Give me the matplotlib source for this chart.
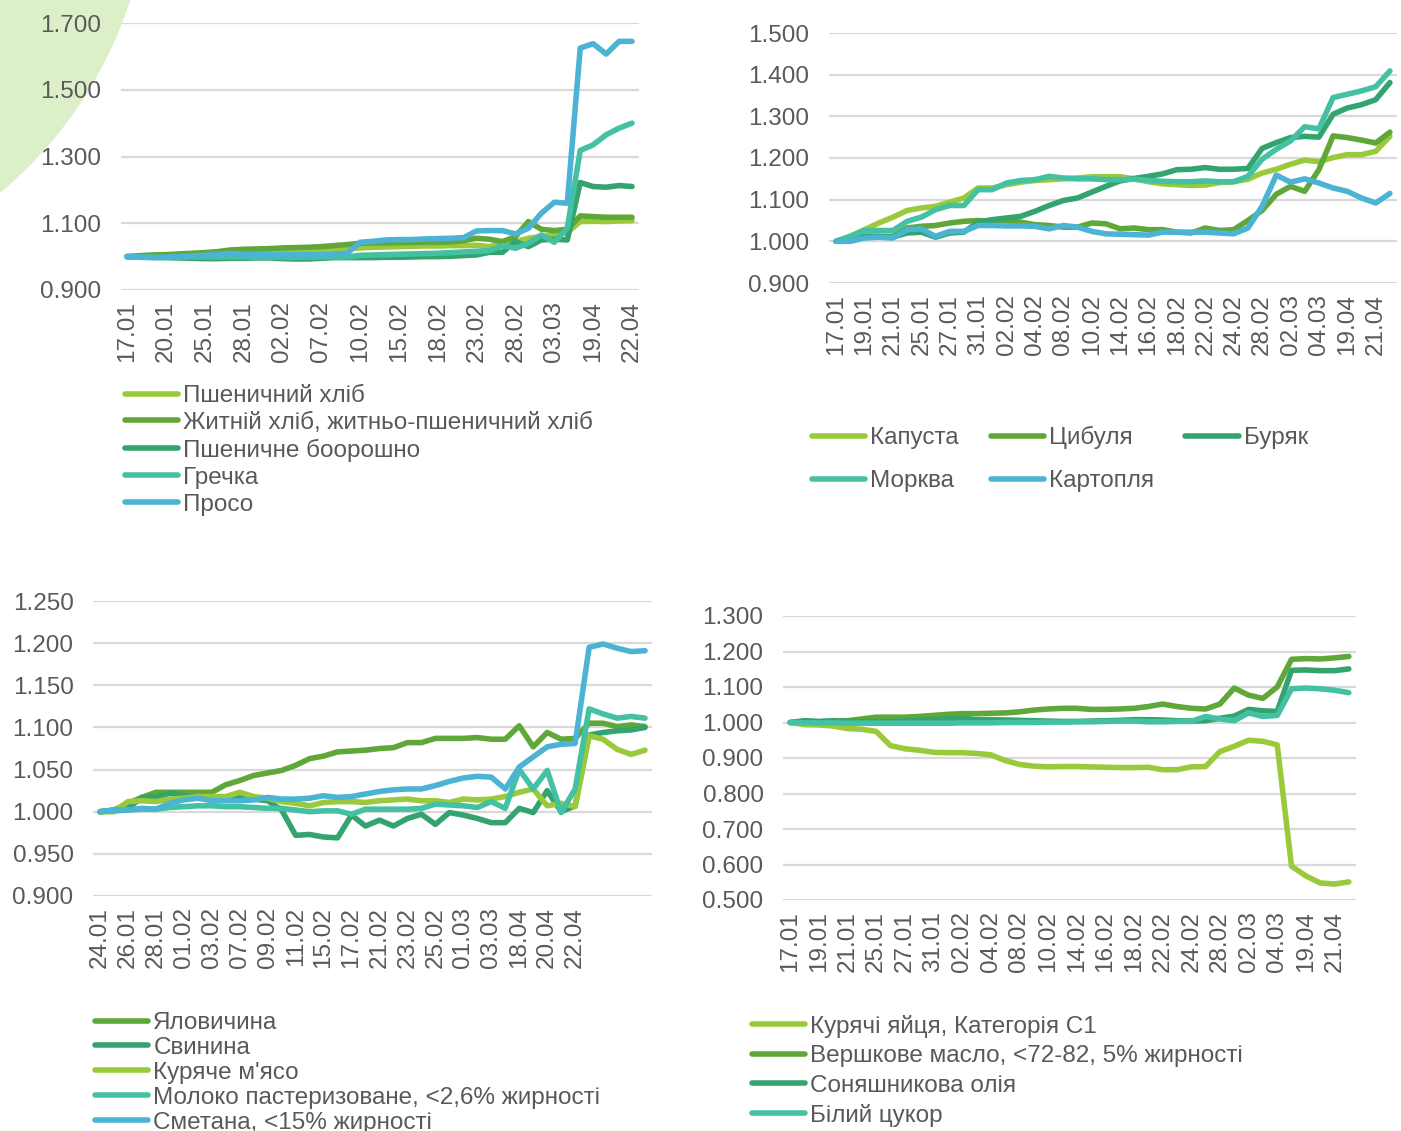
import matplotlib
matplotlib.use("Agg")
import matplotlib.pyplot as plt
from matplotlib.patches import Ellipse
from matplotlib.ticker import FormatStrFormatter

plt.rcParams['font.family'] = ['Liberation Sans', 'DejaVu Sans']

W, H = 1401, 1131
TXT = '#595959'
GRID = '#D9D9D9'
C_LIGHT = '#9ACA3C'
C_MID = '#5FA738'
C_DARK = '#33A46E'
C_TURQ = '#44C1A3'
C_BLUE = '#4BB3D3'

dates = ['17.01', '18.01', '19.01', '20.01', '21.01', '24.01', '25.01', '26.01', '27.01', '28.01',
         '31.01', '01.02', '02.02', '03.02', '04.02', '07.02', '08.02', '09.02', '10.02', '11.02',
         '14.02', '15.02', '16.02', '17.02', '18.02', '21.02', '22.02', '23.02', '24.02', '25.02',
         '28.02', '01.03', '02.03', '03.03', '04.03', '18.04', '19.04', '20.04', '21.04', '22.04']
dates_meat = ['24.01', '25.01', '26.01', '27.01', '28.01', '31.01', '01.02', '02.02', '03.02', '04.02',
              '07.02', '08.02', '09.02', '10.02', '11.02', '14.02', '15.02', '16.02', '17.02', '18.02',
              '21.02', '22.02', '23.02', '24.02', '25.02', '28.02', '01.03', '02.03', '03.03', '04.03',
              '18.04', '19.04', '20.04', '21.04', '22.04', '', '', '', '', '']

# --- хліб / крупи ---
wheat_bread = [1.000, 1.001, 1.002, 1.003, 1.004, 1.006, 1.008, 1.010, 1.012, 1.014,
               1.015, 1.016, 1.017, 1.018, 1.019, 1.020, 1.022, 1.024, 1.026, 1.028,
               1.029, 1.030, 1.031, 1.032, 1.032, 1.033, 1.033, 1.034, 1.030, 1.040,
               1.045, 1.055, 1.060, 1.065, 1.072, 1.105, 1.106, 1.105, 1.107, 1.108]
rye_bread = [1.000, 1.003, 1.005, 1.006, 1.008, 1.010, 1.012, 1.015, 1.020, 1.022,
             1.023, 1.024, 1.026, 1.027, 1.028, 1.030, 1.033, 1.036, 1.040, 1.041,
             1.041, 1.042, 1.042, 1.043, 1.043, 1.044, 1.048, 1.055, 1.052, 1.045,
             1.060, 1.105, 1.082, 1.078, 1.082, 1.122, 1.120, 1.118, 1.118, 1.118]
flour = [1.000, 0.999, 0.998, 0.997, 0.996, 0.995, 0.994, 0.994, 0.995, 0.995,
         0.996, 0.996, 0.994, 0.993, 0.993, 0.995, 0.997, 0.997, 0.997, 0.997,
         0.998, 0.998, 0.999, 1.000, 1.000, 1.001, 1.003, 1.005, 1.013, 1.013,
         1.045, 1.030, 1.050, 1.052, 1.050, 1.222, 1.210, 1.208, 1.213, 1.210]
buckwheat = [1.000, 0.999, 0.998, 0.998, 0.998, 0.999, 0.999, 0.999, 0.999, 0.999,
             0.998, 0.998, 0.998, 0.998, 0.998, 0.999, 0.999, 0.999, 1.004, 1.005,
             1.006, 1.007, 1.008, 1.009, 1.010, 1.012, 1.014, 1.016, 1.018, 1.033,
             1.025, 1.040, 1.065, 1.043, 1.085, 1.318, 1.335, 1.365, 1.385, 1.400]
millet = [1.000, 0.998, 0.997, 0.998, 1.000, 1.002, 1.004, 1.006, 1.010, 1.007,
          1.006, 1.006, 1.006, 1.006, 1.006, 1.006, 1.008, 1.010, 1.043, 1.046,
          1.050, 1.051, 1.051, 1.053, 1.054, 1.055, 1.057, 1.077, 1.078, 1.078,
          1.068, 1.085, 1.130, 1.163, 1.160, 1.625, 1.638, 1.607, 1.645, 1.645]

# --- овочі ---
cabbage = [1.000, 1.012, 1.028, 1.044, 1.058, 1.074, 1.080, 1.084, 1.094, 1.104,
           1.128, 1.128, 1.136, 1.142, 1.146, 1.148, 1.150, 1.152, 1.155, 1.155,
           1.155, 1.150, 1.143, 1.138, 1.136, 1.134, 1.135, 1.141, 1.143, 1.149,
           1.164, 1.173, 1.185, 1.195, 1.191, 1.201, 1.208, 1.208, 1.216, 1.252]
onion = [1.000, 1.010, 1.012, 1.012, 1.012, 1.032, 1.036, 1.038, 1.044, 1.048,
         1.050, 1.048, 1.050, 1.046, 1.040, 1.038, 1.034, 1.034, 1.044, 1.042,
         1.030, 1.032, 1.028, 1.028, 1.022, 1.020, 1.032, 1.026, 1.028, 1.050,
         1.074, 1.113, 1.132, 1.120, 1.172, 1.253, 1.249, 1.243, 1.236, 1.262]
beet = [1.000, 1.008, 1.012, 1.012, 1.010, 1.020, 1.022, 1.010, 1.020, 1.022,
        1.046, 1.052, 1.056, 1.060, 1.072, 1.086, 1.098, 1.104, 1.118, 1.132,
        1.145, 1.151, 1.156, 1.162, 1.172, 1.173, 1.177, 1.173, 1.173, 1.175,
        1.223, 1.237, 1.249, 1.252, 1.250, 1.305, 1.320, 1.328, 1.340, 1.381]
carrot = [1.000, 1.012, 1.026, 1.026, 1.026, 1.048, 1.058, 1.076, 1.086, 1.086,
          1.124, 1.124, 1.140, 1.146, 1.148, 1.156, 1.152, 1.150, 1.150, 1.148,
          1.148, 1.149, 1.146, 1.144, 1.143, 1.143, 1.145, 1.143, 1.143, 1.156,
          1.197, 1.221, 1.241, 1.275, 1.270, 1.345, 1.353, 1.361, 1.371, 1.409]
potato = [1.000, 1.000, 1.008, 1.010, 1.008, 1.028, 1.030, 1.012, 1.024, 1.024,
          1.038, 1.038, 1.037, 1.037, 1.036, 1.030, 1.038, 1.034, 1.024, 1.018,
          1.017, 1.016, 1.015, 1.022, 1.022, 1.022, 1.022, 1.020, 1.018, 1.032,
          1.084, 1.159, 1.142, 1.150, 1.140, 1.128, 1.120, 1.104, 1.092, 1.115]

# --- м'ясо / молочне ---
beef = [1.000, 1.002, 1.010, 1.017, 1.023, 1.023, 1.023, 1.023, 1.023, 1.032,
        1.037, 1.043, 1.046, 1.049, 1.055, 1.063, 1.066, 1.071, 1.072, 1.073,
        1.075, 1.076, 1.082, 1.082, 1.087, 1.087, 1.087, 1.088, 1.086, 1.086,
        1.102, 1.077, 1.094, 1.086, 1.087, 1.105, 1.105, 1.101, 1.103, 1.101]
pork = [1.000, 1.002, 1.004, 1.017, 1.017, 1.022, 1.019, 1.017, 1.016, 1.016,
        1.017, 1.015, 1.013, 1.002, 0.972, 0.973, 0.970, 0.969, 0.996, 0.983,
        0.990, 0.983, 0.992, 0.997, 0.985, 0.999, 0.996, 0.992, 0.987, 0.987,
        1.004, 0.999, 1.025, 1.000, 1.007, 1.091, 1.094, 1.096, 1.097, 1.100]
chicken = [1.000, 1.000, 1.012, 1.013, 1.012, 1.015, 1.016, 1.018, 1.018, 1.018,
           1.023, 1.018, 1.016, 1.012, 1.010, 1.007, 1.011, 1.012, 1.012, 1.011,
           1.013, 1.014, 1.015, 1.013, 1.013, 1.011, 1.015, 1.014, 1.015, 1.018,
           1.023, 1.027, 1.007, 1.010, 1.006, 1.090, 1.086, 1.074, 1.068, 1.073]
milk = [1.000, 1.001, 1.002, 1.003, 1.003, 1.005, 1.006, 1.007, 1.007, 1.006,
        1.006, 1.005, 1.004, 1.004, 1.002, 1.000, 1.001, 1.001, 0.997, 1.003,
        1.003, 1.003, 1.003, 1.004, 1.009, 1.008, 1.007, 1.005, 1.012, 1.004,
        1.050, 1.027, 1.049, 0.999, 1.027, 1.122, 1.116, 1.111, 1.113, 1.111]
sour_cream = [1.000, 1.002, 1.002, 1.004, 1.003, 1.010, 1.014, 1.016, 1.013, 1.013,
              1.013, 1.014, 1.017, 1.015, 1.015, 1.016, 1.019, 1.017, 1.018, 1.021,
              1.024, 1.026, 1.027, 1.027, 1.031, 1.036, 1.040, 1.042, 1.041, 1.027,
              1.053, 1.065, 1.077, 1.080, 1.081, 1.195, 1.199, 1.194, 1.190, 1.191]

# --- інше ---
eggs = [1.000, 0.994, 0.993, 0.990, 0.983, 0.981, 0.975, 0.935, 0.926, 0.922,
        0.916, 0.915, 0.915, 0.913, 0.909, 0.893, 0.882, 0.877, 0.875, 0.876,
        0.876, 0.875, 0.874, 0.873, 0.873, 0.874, 0.867, 0.867, 0.875, 0.876,
        0.918, 0.933, 0.950, 0.947, 0.937, 0.595, 0.568, 0.548, 0.545, 0.551]
butter = [1.000, 1.003, 1.002, 1.003, 1.005, 1.010, 1.015, 1.015, 1.015, 1.017,
          1.020, 1.023, 1.025, 1.025, 1.026, 1.027, 1.030, 1.035, 1.038, 1.040,
          1.040, 1.037, 1.037, 1.038, 1.040, 1.045, 1.052, 1.045, 1.040, 1.038,
          1.052, 1.097, 1.077, 1.068, 1.100, 1.178, 1.180, 1.179, 1.182, 1.186]
sunflower_oil = [1.000, 1.005, 1.003, 1.005, 1.003, 1.002, 1.003, 1.003, 1.004, 1.006,
                 1.008, 1.010, 1.012, 1.008, 1.008, 1.007, 1.006, 1.005, 1.004, 1.003,
                 1.003, 1.004, 1.005, 1.006, 1.008, 1.008, 1.007, 1.005, 1.004, 1.005,
                 1.012, 1.018, 1.037, 1.033, 1.031, 1.147, 1.148, 1.146, 1.146, 1.151]
sugar = [1.000, 0.999, 0.999, 0.999, 0.998, 0.998, 0.998, 0.998, 0.998, 0.998,
         0.998, 0.998, 0.999, 0.999, 0.999, 1.000, 1.000, 1.000, 1.001, 1.001,
         1.002, 1.002, 1.003, 1.004, 1.004, 1.002, 1.002, 1.003, 1.003, 1.017,
         1.010, 1.005, 1.027, 1.017, 1.020, 1.095, 1.097, 1.095, 1.091, 1.084]

panels = [
    dict(box=(120.5, 23, 638.5, 290), ylim=(0.9, 1.7), ystep=0.2, labels=dates, xstep=3,
         series=[(wheat_bread, 'Пшеничний хліб', C_LIGHT),
                 (rye_bread, 'Житній хліб, житньо-пшеничний хліб', C_MID),
                 (flour, 'Пшеничне боорошно', C_DARK),
                 (buckwheat, 'Гречка', C_TURQ),
                 (millet, 'Просо', C_BLUE)],
         leg=(125, 385), ncol=1, lspace=0.2),
    dict(box=(829, 33, 1397, 283), ylim=(0.9, 1.5), ystep=0.1, labels=dates, xstep=2,
         series=[(cabbage, 'Капуста', C_LIGHT),
                 (onion, 'Цибуля', C_MID),
                 (beet, 'Буряк', C_DARK),
                 (carrot, 'Морква', C_TURQ),
                 (potato, 'Картопля', C_BLUE)],
         leg=(812, 426), ncol=3, lspace=0.87),
    dict(box=(93, 601, 652, 896), ylim=(0.9, 1.25), ystep=0.05, labels=dates_meat, xstep=2,
         series=[(beef, 'Яловичина', C_MID),
                 (pork, 'Свинина', C_DARK),
                 (chicken, "Куряче м'ясо", C_LIGHT),
                 (milk, 'Молоко пастеризоване, <2,6% жирності', C_TURQ),
                 (sour_cream, 'Сметана, <15% жирності', C_BLUE)],
         leg=(95, 1012), ncol=1, lspace=0.12),
    dict(box=(783, 616, 1356, 900), ylim=(0.5, 1.3), ystep=0.1, labels=dates, xstep=2,
         series=[(eggs, 'Курячі яйця, Категорія С1', C_LIGHT),
                 (butter, 'Вершкове масло, <72-82, 5% жирності', C_MID),
                 (sunflower_oil, 'Соняшникова олія', C_DARK),
                 (sugar, 'Білий цукор', C_TURQ)],
         leg=(752, 1015), ncol=1, lspace=0.3),
]

fig = plt.figure(figsize=(W / 100, H / 100), dpi=100)
fig.patch.set_facecolor('white')

# декоративне коло в кутку
fig.add_artist(Ellipse((-270 / W, 1 + 130 / H), 842 / W, 842 / H,
                       transform=fig.transFigure, facecolor='#DDEFC9',
                       edgecolor='none', zorder=-5))

FS = 17.5
for p in panels:
    l, t, r, b = p['box']
    ax = fig.add_axes([l / W, 1 - b / H, (r - l) / W, (b - t) / H])
    ax.set_facecolor('none')
    handles = []
    for vals, name, col in p['series']:
        ln, = ax.plot(range(len(vals)), vals, color=col, lw=4.0, label=name,
                      solid_capstyle='round', solid_joinstyle='round')
        handles.append(ln)
    n = len(p['labels'])
    ax.set_xlim(-0.5, n - 0.5)
    y0, y1 = p['ylim']
    ax.set_ylim(y0, y1)
    k = int(round((y1 - y0) / p['ystep']))
    ax.set_yticks([y0 + i * p['ystep'] for i in range(k + 1)])
    ax.yaxis.set_major_formatter(FormatStrFormatter('%.3f'))
    idx = list(range(0, n, p['xstep']))
    ax.set_xticks(idx)
    ax.set_xticklabels([p['labels'][i] for i in idx], rotation=90)
    ax.grid(axis='y', color=GRID, lw=1.6)
    ax.set_axisbelow(True)
    for s in ax.spines.values():
        s.set_visible(False)
    ax.tick_params(axis='both', length=0, labelsize=FS, labelcolor=TXT)
    ax.tick_params(axis='y', pad=14)
    ax.tick_params(axis='x', pad=8)

    hs = handles
    if p['ncol'] == 3:
        hs = [handles[0], handles[3], handles[1], handles[4], handles[2]]
    lx, ly = p['leg']
    leg = fig.legend(handles=hs, loc='upper left', bbox_to_anchor=(lx / W, 1 - ly / H),
                     ncol=p['ncol'], frameon=False, fontsize=FS, borderpad=0,
                     borderaxespad=0, handlelength=2.2, handletextpad=0.2,
                     labelspacing=p['lspace'], columnspacing=1.3, labelcolor=TXT)
    for lh in leg.get_lines():
        lh.set_linewidth(4)
        lh.set_solid_capstyle('round')

fig.savefig('out.png', dpi=100)
